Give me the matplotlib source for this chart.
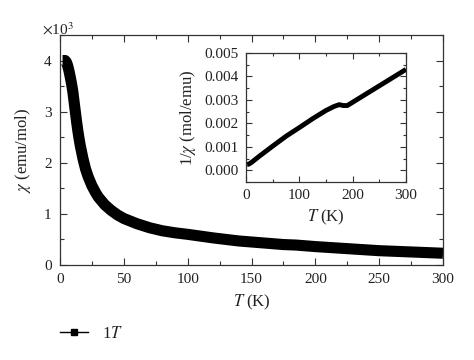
import matplotlib
matplotlib.use("Agg")
import matplotlib.pyplot as plt
from matplotlib.lines import Line2D
from matplotlib.ticker import MultipleLocator

# Main curve: susceptibility (x10^3 emu/mol) vs temperature (K)
temp_main = [2, 3, 4, 5, 6, 7, 8, 9, 10, 11, 12, 13, 14, 15, 16, 18, 20, 22, 25, 28,
             30, 35, 40, 45, 50, 60, 70, 80, 90, 100, 120, 140, 160, 175, 185, 200,
             225, 250, 275, 300]
chi_main = [4.0, 4.0, 4.0, 3.97, 3.9, 3.8, 3.68, 3.55, 3.4, 3.2, 3.0, 2.8, 2.62,
            2.46, 2.32, 2.08, 1.88, 1.73, 1.55, 1.41, 1.33, 1.18, 1.07, 0.98, 0.91,
            0.81, 0.73, 0.67, 0.63, 0.6, 0.53, 0.47, 0.43, 0.40, 0.39, 0.36, 0.32,
            0.28, 0.255, 0.23]

# Inset: inverse susceptibility (mol/emu) vs temperature (K)
temp_inset = [2, 5, 10, 25, 50, 75, 100, 125, 150, 165, 175, 182, 190, 200, 225, 250, 275, 300]
inv_chi = [0.00025, 0.00026, 0.00033, 0.0006, 0.00103, 0.00145, 0.00182, 0.0022,
           0.00255, 0.00272, 0.0028, 0.00276, 0.00276, 0.0029, 0.00325, 0.0036,
           0.00395, 0.0043]

main_xticks = [0, 50, 100, 150, 200, 250, 300]
main_yticks = [0, 1, 2, 3, 4]
inset_xticks = [0, 100, 200, 300]
inset_yticks = [0.000, 0.001, 0.002, 0.003, 0.004, 0.005]
legend_label = "1$T$"

plt.rcParams["font.family"] = ["Liberation Serif", "DejaVu Serif"]
plt.rcParams["mathtext.fontset"] = "stix"
txt = "#222222"
spine_c = "#333333"

fig = plt.figure(figsize=(4.74, 3.6), dpi=100)
ax = fig.add_axes([0.1266, 0.2639, 0.808, 0.6389])

ax.plot(temp_main, chi_main, color="black", lw=8, solid_capstyle="butt", solid_joinstyle="round")
ax.set_xlim(0, 300)
ax.set_ylim(0, 4.5)
ax.set_xticks(main_xticks)
ax.set_yticks(main_yticks)
ax.xaxis.set_minor_locator(MultipleLocator(25))
ax.yaxis.set_minor_locator(MultipleLocator(0.5))
ax.tick_params(which="both", direction="in", top=True, right=True, colors=spine_c,
               labelcolor=txt, labelsize=11, width=0.8)
ax.tick_params(which="major", length=5, pad=6)
ax.tick_params(which="minor", length=3)
for s in ax.spines.values():
    s.set_color(spine_c)
    s.set_linewidth(0.9)
ax.set_xlabel("$T$ (K)", fontsize=12, color=txt, labelpad=5)
ax.set_ylabel(r"$\chi$ (emu/mol)", fontsize=12, color=txt, labelpad=8)
fig.text(0.088, 0.905, r"$\times$10$^3$", fontsize=11, color=txt)

ins = fig.add_axes([0.519, 0.4944, 0.3375, 0.3584])
ins.plot(temp_inset, inv_chi, color="black", lw=3.5, solid_capstyle="butt")
ins.set_xlim(0, 300)
ins.set_ylim(-0.0005, 0.005)
ins.set_xticks(inset_xticks)
ins.set_yticks(inset_yticks)
ins.set_yticklabels([f"{v:.3f}" for v in inset_yticks])
ins.xaxis.set_minor_locator(MultipleLocator(50))
ins.yaxis.set_minor_locator(MultipleLocator(0.0005))
ins.tick_params(which="both", direction="in", top=True, right=True, colors=spine_c,
                labelcolor=txt, labelsize=11, width=0.8)
ins.tick_params(which="major", length=4, pad=5)
ins.tick_params(which="minor", length=2.5)
for s in ins.spines.values():
    s.set_color(spine_c)
    s.set_linewidth(0.9)
ins.set_xlabel("$T$ (K)", fontsize=12, color=txt, labelpad=4)
ins.set_ylabel(r"1/$\chi$ (mol/emu)", fontsize=12, color=txt, labelpad=5)

handle = Line2D([], [], color="black", lw=1, marker="s", markersize=4)
fig.legend([handle], [legend_label], loc="center left", bbox_to_anchor=(0.095, 0.072),
           frameon=False, fontsize=12, handlelength=1.7, handletextpad=0.8,
           labelcolor=txt)

fig.savefig("out.png", dpi=100)
